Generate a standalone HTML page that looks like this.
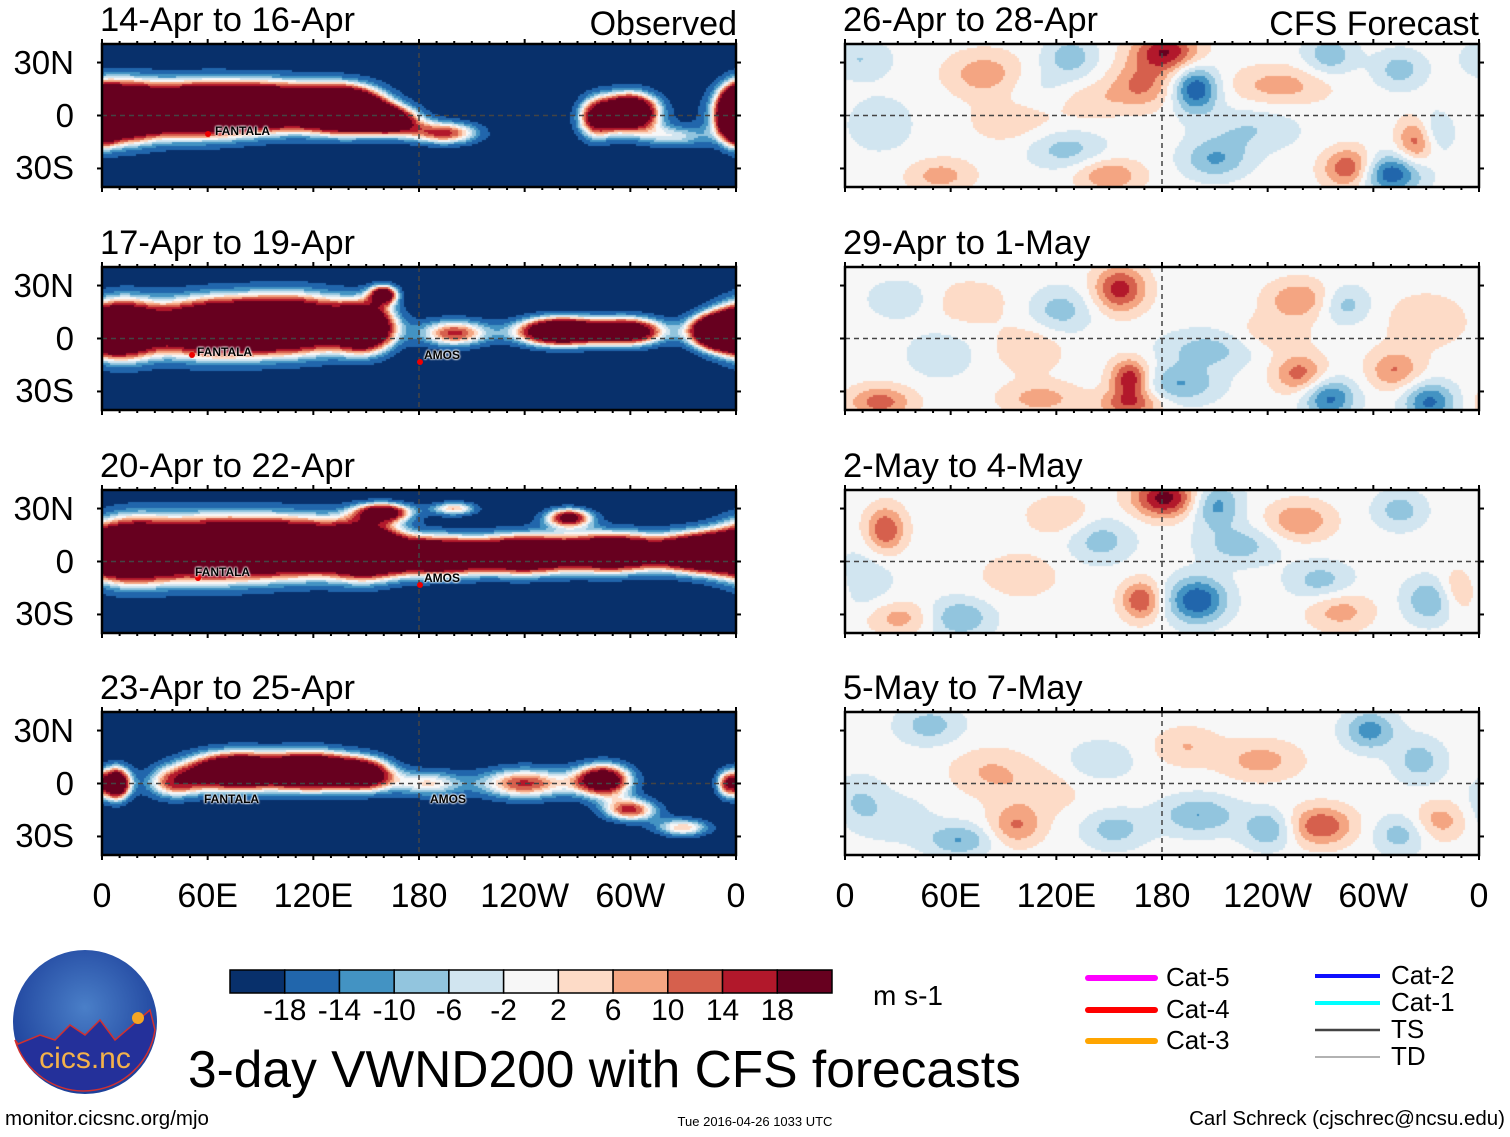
<!DOCTYPE html>
<html><head><meta charset="utf-8"><style>
body{margin:0;background:#fff;width:1510px;height:1137px;position:relative;overflow:hidden;font-family:"Liberation Sans",sans-serif;}
.t{position:absolute;white-space:nowrap;color:#000;line-height:1;}
canvas{position:absolute;}
</style></head><body>
<svg id="ov" width="1510" height="1137" style="position:absolute;left:0;top:0"></svg>
<script>
const levels=[-18,-14,-10,-6,-2,2,6,10,14,18];
const colors=["#08306b","#2166ac","#4393c3","#92c5de","#d1e5f0","#f7f7f7","#fddbc7","#f4a582","#d6604d","#b2182b","#67001f"];
const lonTicks=["0","60E","120E","180","120W","60W","0"];
const latTicks=["30N","0","30S"];
const obsTitles=["14-Apr to 16-Apr","17-Apr to 19-Apr","20-Apr to 22-Apr","23-Apr to 25-Apr"];
const fcTitles=["26-Apr to 28-Apr","29-Apr to 1-May","2-May to 4-May","5-May to 7-May"];
// blobs: [lon, lat, amplitude m/s, lonSpread, latSpread]
const obsBlobs1=[[10,2,45,15,12],[50,3,45,25,11],[100,5,45,30,10],[140,3,45,15,9],[165,-3,30,12,6],[195,-10,25,15,5],[300,2,45,12,8],[280,-2,25,8,9],[360,0,40,6,10],[325,-12,15,15,5]];
const obsBlobs2=[[10,5,45,15,12],[60,6,45,25,12],[110,8,45,25,12],[150,6,40,12,10],[160,25,30,6,4],[200,3,25,15,6],[260,4,45,18,6],[300,4,35,15,6],[350,4,45,12,7]];
const obsBlobs3=[[15,6,45,18,13],[60,7,45,25,13],[110,8,45,25,12],[150,6,45,15,11],[190,3,45,20,8],[240,4,45,20,8],[290,5,45,20,8],[340,5,45,18,8],[160,28,30,12,4],[200,30,20,10,3],[265,25,30,10,4]];
const obsBlobs4=[[8,0,40,6,7],[75,7,45,20,8],[120,7,45,18,8],[150,5,30,12,7],[40,0,20,12,7],[185,0,18,15,6],[240,0,25,20,7],[285,2,35,12,7],[300,-15,25,12,5],[330,-25,20,12,4],[355,0,25,5,6]];
const fcBlobs1=[[80,23,10,12,7],[182,36,18,10,6],[199,15,-18,7,7],[168,17,11,10,7],[247,17,8,15,6],[332,-11,-12,6,7],[326,-14,18,6,7],[287,-30,16,8,6],[309,-33,-18,10,6],[275,34,-9,8,6],[230,-8,-6,15,7],[150,-34,10,10,5],[8,32,-6,10,6],[128,34,-8,8,6],[97,-2,5,15,8],[125,-19,-8,12,6],[54,-34,8,10,5],[210,-25,-10,10,6],[139,9,6,10,6],[315,26,-8,8,6],[20,-5,-4,12,10],[110,15,-4,20,8]];
const fcBlobs2=[[156,28,16,8,7],[162,-37,12,10,4],[162,-23,18,6,6],[190,-26,-10,12,6],[275,-34,-15,8,6],[258,-20,12,8,6],[312,-18,10,8,6],[332,-36,-15,8,6],[207,-6,-8,15,6],[258,22,10,10,6],[284,19,-8,8,6],[20,-36,12,10,5],[122,16,-8,10,7],[105,-6,6,10,7],[54,-9,-6,10,7],[241,2,5,12,6],[31,22,-6,10,6],[111,-34,8,12,5],[70,20,4,15,8],[330,10,4,15,10]];
const fcBlobs3=[[182,36,20,10,6],[210,32,-12,8,7],[23,18,14,6,7],[200,-22,-18,9,7],[168,-22,14,6,6],[65,-32,-10,10,6],[31,-32,8,10,5],[145,12,-8,10,7],[258,23,10,10,6],[270,-11,-8,10,6],[281,-28,8,10,6],[332,-22,-10,8,7],[315,29,-8,8,6],[349,-16,8,6,7],[122,26,6,10,6],[224,9,-8,12,6],[99,-8,5,12,7],[10,-10,-5,10,10]];
const fcBlobs4=[[298,30,-12,8,6],[270,-24,14,10,6],[241,-26,-10,8,6],[97,-24,10,8,6],[65,-32,-10,10,5],[153,-26,-8,10,6],[201,-18,-10,12,6],[236,13,8,12,6],[338,-21,8,8,6],[315,-29,-8,8,6],[48,33,-8,10,6],[326,13,-8,8,7],[82,7,6,12,7],[145,13,-6,10,6],[194,21,6,10,6],[8,-10,-6,8,8],[30,-20,-4,12,8],[110,-5,4,15,8]];
const obsSets=[obsBlobs1,obsBlobs2,obsBlobs3,obsBlobs4];
const fcSets=[fcBlobs1,fcBlobs2,fcBlobs3,fcBlobs4];
const rowTops=[44,267,490,712];
const PW=634,PH=143,LX=102,RX=845;
const NS='http://www.w3.org/2000/svg';
const ov=document.getElementById('ov');
function colorFor(v){let i=0;while(i<levels.length&&v>levels[i])i++;return colors[i];}
function field(blobs,base,lon,lat,sc,sharp){let s=0;for(const b of blobs){let d=lon-b[0];if(d>180)d-=360;if(d<-180)d+=360;const dy=lat-b[1];
  const r2=(d/(b[3]*sc))**2+(dy/(b[4]*sc))**2;
  s+=b[2]*Math.exp(-0.5*r2);}
  if(sharp) return base+46/(1+Math.exp(-(s-18)/5));
  return base+s;}
function xLon(lon){return lon/360*PW;}
function yLat(lat){return (40.5-lat)/81*PH;}
function mk(tag,attrs,parent){const e=document.createElementNS(NS,tag);for(const k in attrs)e.setAttribute(k,attrs[k]);(parent||ov).appendChild(e);return e;}
function panel(x0,y0,blobs,base,name,sc,sharp){
  const c=document.createElement('canvas');c.width=PW;c.height=PH;c.style.left=x0+'px';c.style.top=y0+'px';
  
  
  document.body.insertBefore(c,ov);
  const g=c.getContext('2d');const st=2;
  for(let py=0;py<PH;py+=st)for(let px=0;px<PW;px+=st){
    const lon=(px+1)/PW*360,lat=40.5-(py+1)/PH*81;
    g.fillStyle=colorFor(field(blobs,base,lon,lat,sc,sharp));g.fillRect(px,py,st,st);}
  mk('line',{x1:x0,x2:x0+PW,y1:y0+yLat(0),y2:y0+yLat(0),stroke:'#444','stroke-width':1.5,'stroke-dasharray':'5,4'});
  mk('line',{x1:x0+xLon(180),x2:x0+xLon(180),y1:y0,y2:y0+PH,stroke:'#444','stroke-width':1.5,'stroke-dasharray':'5,4'});
  mk('rect',{x:x0,y:y0,width:PW,height:PH,fill:'none',stroke:'#000','stroke-width':2.5});
  for(let l=0;l<=360;l+=10){const big=l%60==0;const xx=x0+xLon(l);
    mk('line',{x1:xx,x2:xx,y1:y0,y2:y0-(big?5:3),stroke:'#000','stroke-width':2});
    mk('line',{x1:xx,x2:xx,y1:y0+PH,y2:y0+PH+(big?5:3),stroke:'#000','stroke-width':2});}
  for(const la of [30,0,-30]){const yy=y0+yLat(la);
    mk('line',{x1:x0,x2:x0-5,y1:yy,y2:yy,stroke:'#000','stroke-width':2});
    mk('line',{x1:x0+PW,x2:x0+PW+5,y1:yy,y2:yy,stroke:'#000','stroke-width':2});}
}
function txt(x,y,s,size,name,anchor,extra){const e=document.createElement('div');e.className='t';e.textContent=s;
  e.style.fontSize=size+'px';e.style.top=y+'px';
  if(anchor==='r'){e.style.right=(1510-x)+'px';}else if(anchor==='c'){e.style.left=x+'px';e.style.transform='translateX(-50%)';}else e.style.left=x+'px';
  if(extra)Object.assign(e.style,extra);
  
  
  document.body.appendChild(e);return e;}
for(let r=0;r<4;r++){
  const y0=rowTops[r];
  panel(LX,y0,obsSets[r],-22,'observed-map-'+(r+1),1,true);
  panel(RX,y0,fcSets[r],0,'forecast-map-'+(r+1),1.3,false);
  txt(100,y0-41,obsTitles[r],34.5,'observed-panel-title');
  txt(843,y0-41,fcTitles[r],34.5,'forecast-panel-title');
  latTicks.forEach((s,i)=>{txt(74,y0+yLat([30,0,-30][i])-17,s,33,'lat-tick-label','r');});
}
txt(737,7,'Observed',34,'observed-label','r');
txt(1479,7,'CFS Forecast',34,'cfs-forecast-label','r');
const storms=[[215,125,'FANTALA'],[197,346,'FANTALA'],[424,349,'AMOS'],[195,566,'FANTALA'],[424,572,'AMOS'],[204,793,'FANTALA'],[430,793,'AMOS']];
storms.forEach(s=>txt(s[0],s[1],s[2],12,'storm-label',null,{color:'#000',textShadow:'0 0 2px #fff,0 0 2px #fff,0 0 2px #fff',fontWeight:'bold'}));
for(const p of [[208,134],[192,355],[198,578],[420,362],[420,585]])mk('circle',{cx:p[0],cy:p[1],r:3,fill:'#e00'});
lonTicks.forEach((s,i)=>{txt(LX+i*PW/6,879,s,34,'lon-tick-label','c');txt(RX+i*PW/6,879,s,34,'lon-tick-label','c');});
const cbX=230,cbY=970,cbW=602,cbH=23;
colors.forEach((c,i)=>{const w=cbW/colors.length;const e=mk('rect',{x:cbX+i*w,y:cbY,width:w,height:cbH,fill:c,stroke:'#000','stroke-width':1.5});
  
  });
levels.forEach((l,i)=>txt(cbX+(i+1)*cbW/colors.length,996,String(l),30,'colorbar-tick-label','c'));
txt(873,982,'m s-1',28,'colorbar-units');
const legL=[['#ff00ff','Cat-5',978,6],['#ff0000','Cat-4',1010,6],['#ffa500','Cat-3',1041,6]];
const legR=[['#1010ff','Cat-2',976,4],['#00ffff','Cat-1',1003,4],['#444','TS',1030,2.5],['#999','TD',1057,1.5]];
legL.forEach(l=>{mk('line',{x1:1088,x2:1155,y1:l[2],y2:l[2],stroke:l[0],'stroke-width':l[3],'stroke-linecap':'round'});txt(1166,l[2]-14,l[1],26,'legend-entry');});
legR.forEach(l=>{mk('line',{x1:1315,x2:1380,y1:l[2],y2:l[2],stroke:l[0],'stroke-width':l[3]});txt(1391,l[2]-14,l[1],26,'legend-entry');});
txt(188,1044,'3-day VWND200 with CFS forecasts',51.5,'chart-title');
txt(5,1109,'monitor.cicsnc.org/mjo',20.5,'source-url');
txt(755,1115,'Tue 2016-04-26 1033 UTC',13,'timestamp','c');
txt(1505,1109,'Carl Schreck (cjschrec@ncsu.edu)',20.5,'author-credit','r');
const lg=mk('g',{});
const df=mk('defs',{},ov);const rg=mk('radialGradient',{id:'lgg',cx:'50%',cy:'40%',r:'60%'},df);
mk('stop',{offset:'0','stop-color':'#4a7fc8'},rg);mk('stop',{offset:'1','stop-color':'#1c3f9a'},rg);
mk('circle',{cx:85,cy:1022,r:72,fill:'url(#lgg)'},lg);
mk('path',{d:'M18,1044 L40,1035 L55,1040 L70,1025 L85,1035 L100,1020 L115,1040 L150,1010 L155,1030 A72,72 0 0 1 15,1040Z',fill:'#24309a',stroke:'#d03030','stroke-width':1.5},lg);
mk('circle',{cx:138,cy:1018,r:6,fill:'#f5a623'},lg);
const lt=mk('text',{x:85,y:1068,'text-anchor':'middle','font-size':30,fill:'#f3b24a','font-family':'Liberation Sans, sans-serif'},lg);lt.textContent='cics.nc';
</script>
</body></html>
